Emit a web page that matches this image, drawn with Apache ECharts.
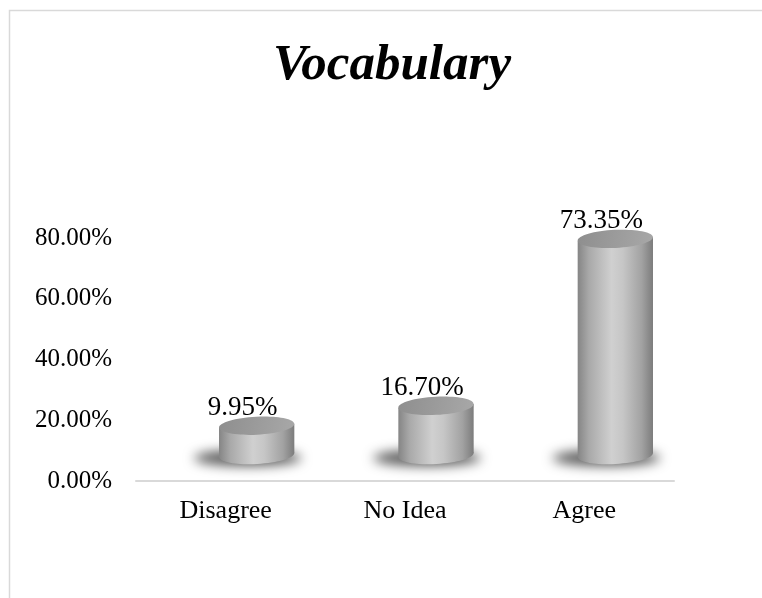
<!DOCTYPE html>
<html>
<head>
<meta charset="utf-8">
<style>
  html, body { margin: 0; padding: 0; background: #fff; }
  #chart { width: 762px; height: 598px; }
</style>
<script src="https://cdn.jsdelivr.net/npm/echarts@6/dist/echarts.min.js"></script>
</head>
<body>
<div id="chart"></div>
<script>
var categories = ['Disagree', 'No Idea', 'Agree'];
var values = [9.95, 16.70, 73.35];
var yTicks = [0, 20, 40, 60, 80];

// 3D look: cylinders sit on a floor pushed back from the axis line
var depthX = 31;
var depthY = 26;
var persp = 0.97;
var tilt = 0.05;

function renderCylinder(params, api) {
  var idx = api.value(0);
  var val = api.value(1);
  var base = api.coord([idx, 0]);
  var top = api.coord([idx, val]);
  var band = api.size([1, 0])[0];
  var rx = band * 0.21;
  var ry = rx * 0.24;
  var cx = base[0] + depthX;
  var by = base[1] - depthY;
  var ty = by - (base[1] - top[1]) * persp;
  var dy = rx * Math.sin(tilt);

  var bodyFill = new echarts.graphic.LinearGradient(0, 0, 1, 0, [
    { offset: 0, color: '#858585' },
    { offset: 0.15, color: '#a9a9a9' },
    { offset: 0.45, color: '#d0d0d0' },
    { offset: 0.6, color: '#c6c6c6' },
    { offset: 0.85, color: '#a2a2a2' },
    { offset: 1, color: '#7c7c7c' }
  ]);
  var topFill = new echarts.graphic.LinearGradient(0, 0, 1, 1, [
    { offset: 0, color: '#8e8e8e' },
    { offset: 1, color: '#a8a8a8' }
  ]);

  return {
    type: 'group',
    children: [
      {
        // blurred floor shadow, drawn off screen and shifted back
        type: 'ellipse',
        shape: { cx: cx - 9 - 3000, cy: by + 3, rx: rx + 16, ry: ry - 1 },
        style: {
          fill: '#000',
          shadowBlur: 12,
          shadowColor: 'rgba(0,0,0,0.65)',
          shadowOffsetX: 3000
        },
        silent: true
      },
      {
        type: 'ellipse',
        shape: { cx: 0, cy: 0, rx: rx, ry: ry },
        x: cx, y: by, rotation: tilt,
        style: { fill: bodyFill }
      },
      {
        type: 'polygon',
        shape: {
          points: [
            [cx - rx, ty + dy], [cx + rx, ty - dy],
            [cx + rx, by - dy], [cx - rx, by + dy]
          ]
        },
        style: { fill: bodyFill }
      },
      {
        type: 'ellipse',
        shape: { cx: 0, cy: 0, rx: rx, ry: ry },
        x: cx, y: ty, rotation: tilt,
        style: { fill: topFill }
      },
      {
        type: 'text',
        style: {
          text: val.toFixed(2) + '%',
          x: cx - 14,
          y: ty - ry + 5,
          align: 'center',
          verticalAlign: 'bottom',
          fontSize: 27,
          fontFamily: 'Liberation Serif',
          fill: '#000'
        }
      }
    ]
  };
}

var chart = echarts.init(document.getElementById('chart'));
chart.setOption({
  animation: false,
  textStyle: { fontFamily: 'Liberation Serif' },
  title: {
    text: 'Vocabulary',
    left: 273,
    top: 40,
    padding: 0,
    textStyle: {
      fontSize: 51,
      fontWeight: 'bold',
      fontStyle: 'italic',
      fontFamily: 'Liberation Serif',
      color: '#000'
    }
  },
  graphic: [{
    type: 'rect',
    shape: { x: 9.5, y: 10.5, width: 900, height: 800 },
    style: { fill: 'none', stroke: '#d9d9d9', lineWidth: 1.5 },
    silent: true
  }],
  grid: { left: 136, right: 88, top: 238, bottom: 117 },
  xAxis: {
    type: 'category',
    data: categories,
    axisLine: { lineStyle: { color: '#d9d9d9', width: 2 } },
    axisTick: { show: false },
    axisLabel: { margin: 17, fontSize: 26, color: '#000', fontFamily: 'Liberation Serif' }
  },
  yAxis: {
    type: 'value',
    min: yTicks[0],
    max: yTicks[yTicks.length - 1],
    interval: 20,
    splitLine: { show: false },
    axisLine: { show: false },
    axisTick: { show: false },
    axisLabel: {
      margin: 24,
      fontSize: 25,
      color: '#000',
      fontFamily: 'Liberation Serif',
      formatter: function (v) { return v.toFixed(2) + '%'; }
    }
  },
  series: [{
    type: 'custom',
    clip: false,
    renderItem: renderCylinder,
    data: values.map(function (v, i) { return [i, v]; })
  }]
});
</script>
</body>
</html>
